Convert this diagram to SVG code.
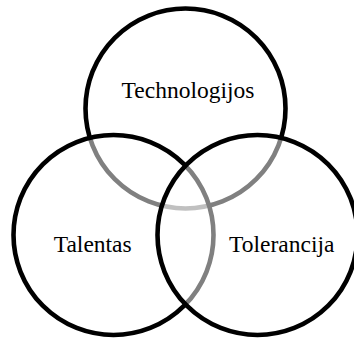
<svg xmlns="http://www.w3.org/2000/svg" width="354" height="338" viewBox="0 0 354 338">
<style>
.c{fill:#ffffff;fill-opacity:0.5;stroke:#000;stroke-width:4.6}
.t{font-family:"Liberation Serif","Times New Roman",serif;font-size:23.5px;fill:#000;text-anchor:middle}
</style>
<rect width="354" height="338" fill="#fff"/>
<g id="technologijos">
<circle class="c" cx="185.5" cy="108.5" r="100"/>
<text class="t" x="188" y="98">Technologijos</text>
</g>
<g id="talentas">
<circle class="c" cx="113.5" cy="235" r="100"/>
<text class="t" x="92.7" y="251.5">Talentas</text>
</g>
<g id="tolerancija">
<circle class="c" cx="257.5" cy="235" r="100"/>
<text class="t" x="281.7" y="251.5">Tolerancija</text>
</g>
</svg>
